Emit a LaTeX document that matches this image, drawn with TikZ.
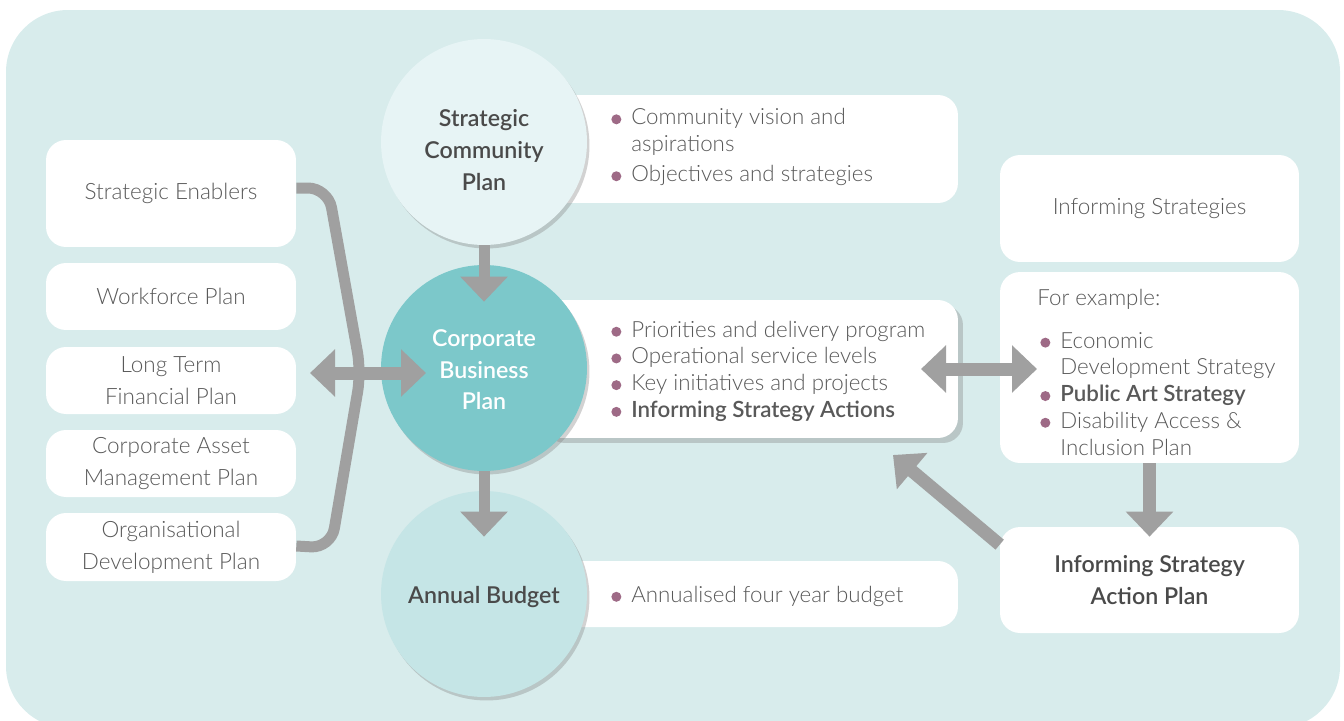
\documentclass[tikz,border=0pt]{standalone}
\usepackage{fontspec}
\IfFontExistsTF{Lato Light}{%
  \IfFontExistsTF{Lato Semibold}{\setmainfont{Lato}[UprightFont=* Light, BoldFont=* Semibold]}{\setmainfont{Lato}[UprightFont=* Light]}}{%
  \setmainfont{Lato}}
\usetikzlibrary{arrows.meta,shadows}

\definecolor{bgc}{HTML}{D8ECEC}
\definecolor{pale}{HTML}{E7F4F5}
\definecolor{cbteal}{HTML}{7CC8CA}
\definecolor{mist}{HTML}{C5E5E6}
\definecolor{arr}{HTML}{A0A0A0}
\definecolor{txt}{HTML}{595959}
\definecolor{dtxt}{HTML}{4A4A4A}
\definecolor{bulc}{HTML}{9E6A86}

\newcommand{\bul}{\tikz[baseline=-0.5ex]\fill[bulc] (0,0) circle (0.1cm);}

\tikzset{
  plainbox/.style={fill=white, rounded corners=0.4cm, text=txt, align=center, minimum width=5cm},
  infobox/.style={fill=white, rounded corners=0.4cm, minimum width=8.36cm},
  plan/.style={circle, minimum size=4.12cm, drop shadow={shadow xshift=0.05cm, shadow yshift=-0.07cm, opacity=0.35}},
  plantext/.style={font=\fontsize{13.2}{18}\selectfont\bfseries, text=dtxt, align=center},
  list/.style={anchor=west, text=txt, inner sep=0pt, font=\fontsize{12.7}{15.2}\selectfont},
  fatarrow/.style={draw=arr, line width=0.26cm, -{Triangle[width=0.92cm,length=0.5cm]}},
  twoway/.style={fatarrow, {Triangle[width=0.92cm,length=0.5cm]}-{Triangle[width=0.92cm,length=0.5cm]}},
  bracket/.style={draw=arr, line width=0.22cm, rounded corners=0.4cm},
}

\begin{document}
\begin{tikzpicture}[x=0.02cm, y=-0.02cm, font=\fontsize{12.8}{18}\selectfont]

  \useasboundingbox (0,0) rectangle (1344,720);
  \fill[bgc, rounded corners=1.24cm] (6,10) rectangle (1340,728);

  % left column
  \node[plainbox, minimum height=2.14cm] (enab) at (171,193.5) {Strategic Enablers};
  \node[plainbox, minimum height=1.34cm] (work) at (171,296.5) {Workforce Plan};
  \node[plainbox, minimum height=1.34cm] (ltfp) at (171,380.5) {Long Term\\Financial Plan};
  \node[plainbox, minimum height=1.34cm] (camp) at (171,463.5) {Corporate Asset\\Management Plan};
  \node[plainbox, minimum height=1.36cm] (odp) at (171,547) {Organisational\\Development Plan};

  \draw[bracket] ([yshift=0.11cm]enab.east) -- (328,188) -- (361,372) -- (331,548) -- ([yshift=0.02cm]odp.east);

  % boxes beside the circles
  \node[infobox, minimum height=2.16cm] (scinfo) at (749,149) {};
  \node[infobox, minimum height=2.76cm,
    drop shadow={shadow xshift=0.1cm, shadow yshift=-0.1cm, opacity=0.35}] (cbinfo) at (749,369) {};
  \node[infobox, minimum height=1.32cm] (abinfo) at (749,594) {};

  % right column
  \node[plainbox, minimum width=5.98cm, minimum height=2.14cm] (inf) at (1149.5,208.5) {Informing Strategies};
  \node[plainbox, minimum width=5.98cm, minimum height=3.82cm] (expl) at (1149.5,367.5) {};
  \node[plainbox, plantext, minimum width=5.98cm, minimum height=2.12cm] (isap) at (1149.5,580) {Informing Strategy\\Action Plan};

  % the three plans
  \node[plan, fill=pale] (scp) at (484,142) {};
  \node[plantext] (scptext) at (484,150) {Strategic\\Community\\Plan};
  \node[plan, fill=cbteal] (cbp) at (484,368) {};
  \node[plantext, text=white] (cbptext) at (484,370) {Corporate\\Business\\Plan};
  \node[plan, fill=mist] (ab) at (484,594) {};
  \node[plantext] (abtext) at (484,597) {Annual Budget};

  % bullet lists
  \node[list] (sclist) at (608,148) {\begin{tabular}{@{\hspace{0.06cm}}l@{\hspace{0.2cm}}l@{}}
    \bul & Community vision and\\ & aspirations\\[2pt]
    \bul & Objectives and strategies
  \end{tabular}};
  \node[list] (cblist) at (608,372) {\begin{tabular}{@{\hspace{0.06cm}}l@{\hspace{0.2cm}}l@{}}
    \bul & Priorities and delivery program\\
    \bul & Operational service levels\\
    \bul & Key initiatives and projects\\
    \bul & \textbf{Informing Strategy Actions}
  \end{tabular}};
  \node[list] (ablist) at (608,597) {\begin{tabular}{@{\hspace{0.06cm}}l@{\hspace{0.2cm}}l@{}}
    \bul & Annualised four year budget
  \end{tabular}};
  \node[list] (exlist) at (1037,375) {\begin{tabular}{@{\hspace{0.06cm}}l@{\hspace{0.2cm}}l@{}}
    \multicolumn{2}{@{}l@{}}{For example:}\\[9pt]
    \bul & Economic\\ & Development Strategy\\
    \bul & \textbf{Public Art Strategy}\\
    \bul & Disability Access \&\\ & Inclusion Plan
  \end{tabular}};

  % arrows
  \draw[fatarrow, line width=0.22cm] (scp.south) -- ([yshift=-0.74cm]cbp.north);
  \draw[fatarrow, line width=0.22cm] (cbp.south) -- ([yshift=-0.92cm]ab.north);
  \coordinate (lw) at (310,373);
  \coordinate (le) at (426,373);
  \draw[twoway] (lw) -- (le);
  \coordinate (rw) at (921,369);
  \coordinate (re) at (1037,369);
  \draw[twoway] (rw) -- (re);
  \draw[fatarrow] (expl.south) -- ([yshift=-0.2cm]isap.north);
  \coordinate (dtip) at (893,455);
  \draw[fatarrow] ([yshift=-0.36cm]isap.north west) -- (dtip);

\end{tikzpicture}
\end{document}
